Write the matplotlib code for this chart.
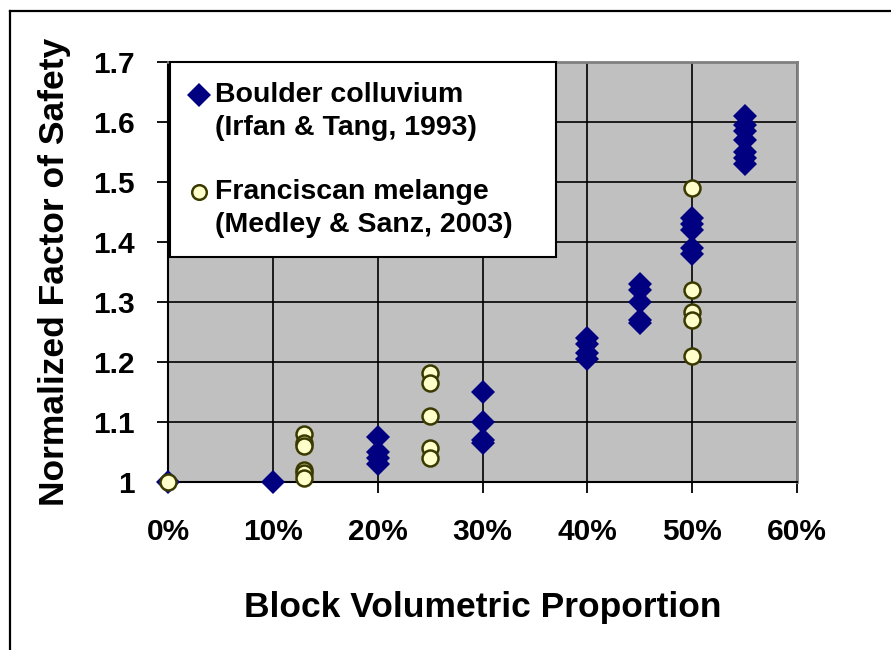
import matplotlib
matplotlib.use('Agg')
import matplotlib.pyplot as plt
from matplotlib import ticker
from matplotlib.patches import Rectangle
from matplotlib.lines import Line2D

plt.rcParams['font.family'] = ['Liberation Sans', 'DejaVu Sans']
plt.rcParams['font.weight'] = 'bold'

# Boulder colluvium (Irfan & Tang, 1993)
boulder_x = [0.00, 0.10,
             0.20, 0.20, 0.20, 0.20,
             0.30, 0.30, 0.30, 0.30,
             0.40, 0.40, 0.40, 0.40,
             0.45, 0.45, 0.45, 0.45, 0.45,
             0.50, 0.50, 0.50, 0.50, 0.50,
             0.55, 0.55, 0.55, 0.55, 0.55, 0.55, 0.55]
boulder_y = [1.00, 1.00,
             1.075, 1.05, 1.04, 1.03,
             1.15, 1.10, 1.07, 1.065,
             1.24, 1.23, 1.215, 1.205,
             1.33, 1.32, 1.30, 1.27, 1.265,
             1.44, 1.43, 1.42, 1.39, 1.38,
             1.61, 1.595, 1.585, 1.57, 1.55, 1.54, 1.53]

# Franciscan melange (Medley & Sanz, 2003)
melange_x = [0.00,
             0.13, 0.13, 0.13, 0.13, 0.13, 0.13,
             0.25, 0.25, 0.25, 0.25, 0.25,
             0.50, 0.50, 0.50, 0.50, 0.50]
melange_y = [1.00,
             1.08, 1.065, 1.06, 1.02, 1.015, 1.007,
             1.182, 1.165, 1.11, 1.057, 1.04,
             1.49, 1.32, 1.284, 1.27, 1.21]

legend_labels = ['Boulder colluvium', '(Irfan & Tang, 1993)',
                 'Franciscan melange', '(Medley & Sanz, 2003)']

NAVY = '#000080'
CREAM = '#FFFFCC'
OLIVE = '#3A3A00'

fig = plt.figure(figsize=(8.91, 6.5), dpi=100)
ax = fig.add_axes([168 / 891, 1 - 482 / 650, 629 / 891, 420 / 650])
ax.set_facecolor('#C0C0C0')

ax.plot(boulder_x, boulder_y, 'D', color=NAVY, markersize=12.5, markeredgewidth=0,
        linestyle='none', clip_on=False, zorder=3)
ax.plot(melange_x, melange_y, 'o', markerfacecolor=CREAM, markeredgecolor=OLIVE,
        markersize=11.5, markeredgewidth=1.8, linestyle='none', clip_on=False, zorder=4)

ax.set_xlim(0, 0.6)
ax.set_ylim(1.0, 1.7)
ax.xaxis.set_major_locator(ticker.MultipleLocator(0.1))
ax.yaxis.set_major_locator(ticker.MultipleLocator(0.1))
ax.xaxis.set_major_formatter(ticker.PercentFormatter(xmax=1, decimals=0))
ax.yaxis.set_major_formatter(ticker.FuncFormatter(lambda v, pos: '%g' % round(v, 1)))

ax.grid(True, color='black', linewidth=1.2, zorder=1)
ax.set_axisbelow(True)
for side in ['left', 'bottom']:
    ax.spines[side].set_color('black')
    ax.spines[side].set_linewidth(1.5)
for side in ['top', 'right']:
    ax.spines[side].set_color('#808080')
    ax.spines[side].set_linewidth(2)

ax.tick_params(axis='both', direction='out', length=8, width=1.3, color='black',
               labelsize=21.5, pad=16)
ax.tick_params(axis='x', pad=18)

ax.set_xlabel('Block Volumetric Proportion', fontsize=25.5, fontweight='bold', labelpad=32)
ax.set_ylabel('Normalized Factor of Safety', fontsize=25.5, fontweight='bold', labelpad=16)

# legend box drawn by hand so the key sits on the first text line
ax.add_patch(Rectangle((0.003, 0.536), 0.614, 0.464, transform=ax.transAxes,
                       facecolor='white', edgecolor='black', linewidth=1.5,
                       zorder=5, clip_on=False))
text_y = [0.921, 0.843, 0.690, 0.612]
for lbl, ty in zip(legend_labels, text_y):
    ax.text(0.0747, ty, lbl, transform=ax.transAxes, fontsize=20.5,
            fontweight='bold', va='center', ha='left', zorder=6)
ax.plot([0.049], [0.921], 'D', color=NAVY, markersize=12, markeredgewidth=0,
        transform=ax.transAxes, clip_on=False, zorder=6)
ax.plot([0.049], [0.690], 'o', markerfacecolor=CREAM, markeredgecolor=OLIVE,
        markersize=10.5, markeredgewidth=1.8, transform=ax.transAxes,
        clip_on=False, zorder=6)

# outer frame (left and top edges only)
fx = 10 / 891
fy = 1 - 11 / 650
fig.add_artist(Line2D([fx, fx], [0, fy], color='black', linewidth=1.6,
                      transform=fig.transFigure))
fig.add_artist(Line2D([fx, 1], [fy, fy], color='black', linewidth=1.6,
                      transform=fig.transFigure))

fig.savefig('out.png', dpi=100, facecolor='white')
